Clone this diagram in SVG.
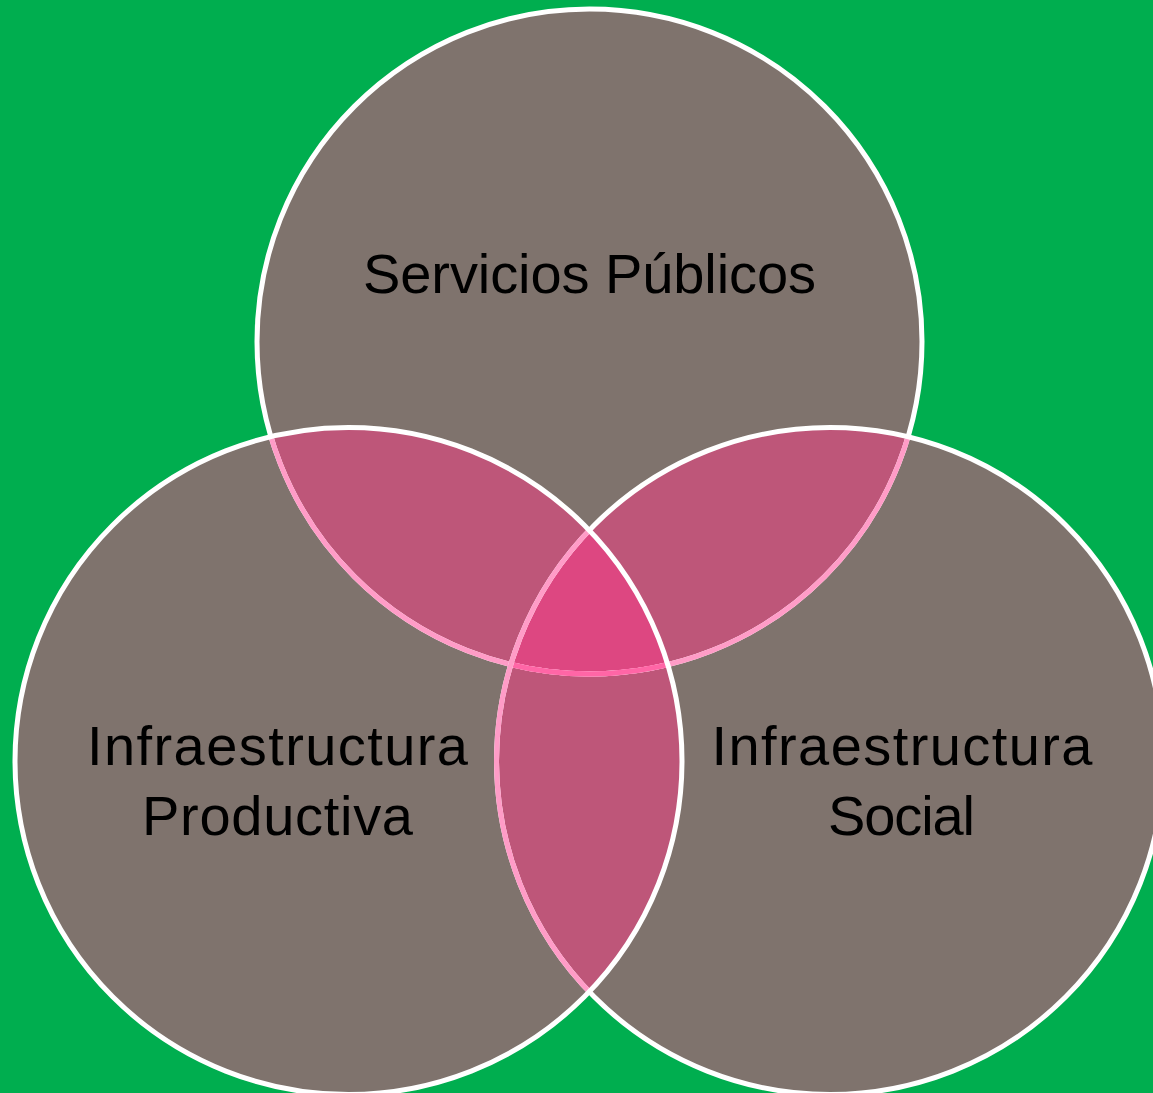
<svg xmlns="http://www.w3.org/2000/svg" width="1153" height="1093" viewBox="0 0 1153 1093">
  <style>
    .fill { fill: #7F736D; }
    .edge { fill: none; stroke: #FFFFFF; stroke-width: 5; }
    .edge1 { fill: none; stroke: #FF9CC7; stroke-width: 5; }
    .edge2 { fill: none; stroke: #FF66A6; stroke-width: 5; }
    .pair { fill: #BE5679; }
    .triple { fill: #DD4781; }
    .label { font-family: "Liberation Sans", Arial, sans-serif; font-size: 56px; fill: #000000; text-anchor: middle; }
  </style>
  <defs>
    <circle id="cTop" cx="589.5" cy="341.5" r="332.5"/>
    <circle id="cBL" cx="348.5" cy="761" r="333.5"/>
    <circle id="cBR" cx="830" cy="761" r="333.5"/>
    <clipPath id="clipTop"><use href="#cTop"/></clipPath>
    <clipPath id="clipBL"><use href="#cBL"/></clipPath>
    <clipPath id="clipBR"><use href="#cBR"/></clipPath>
  </defs>

  <rect x="0" y="0" width="1153" height="1093" fill="#00AE4F"/>

  <!-- circle fills -->
  <g id="fills">
    <use href="#cTop" class="fill"/>
    <use href="#cBR" class="fill"/>
    <use href="#cBL" class="fill"/>
  </g>

  <!-- overlap regions -->
  <g id="overlaps">
    <g clip-path="url(#clipTop)"><use href="#cBL" class="pair"/></g>
    <g clip-path="url(#clipTop)"><use href="#cBR" class="pair"/></g>
    <g clip-path="url(#clipBL)"><use href="#cBR" class="pair"/></g>
    <g clip-path="url(#clipTop)"><g clip-path="url(#clipBL)"><use href="#cBR" class="triple"/></g></g>
  </g>

  <!-- outlines -->
  <g id="outlines">
    <use href="#cTop" class="edge"/>
    <g clip-path="url(#clipBL)"><use href="#cTop" class="edge1"/></g>
    <g clip-path="url(#clipBR)"><use href="#cTop" class="edge1"/></g>
    <g clip-path="url(#clipBL)"><g clip-path="url(#clipBR)"><use href="#cTop" class="edge2"/></g></g>
    <use href="#cBR" class="edge"/>
    <g clip-path="url(#clipBL)"><use href="#cBR" class="edge1"/></g>
    <use href="#cBL" class="edge"/>
  </g>

  <g id="node-servicios">
    <text class="label" x="589.5" y="293" textLength="453" lengthAdjust="spacing">Servicios Públicos</text>
  </g>
  <g id="node-productiva">
    <text class="label" x="277.5" y="765" textLength="381" lengthAdjust="spacing">Infraestructura</text>
    <text class="label" x="277.5" y="835" textLength="271" lengthAdjust="spacing">Productiva</text>
  </g>
  <g id="node-social">
    <text class="label" x="902" y="765" textLength="381" lengthAdjust="spacing">Infraestructura</text>
    <text class="label" x="901.5" y="835" textLength="147" lengthAdjust="spacing">Social</text>
  </g>
</svg>
